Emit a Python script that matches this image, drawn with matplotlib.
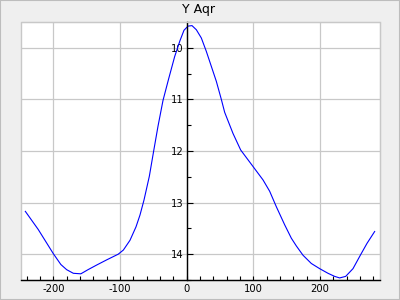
import matplotlib
matplotlib.use("Agg")
import matplotlib.pyplot as plt
from matplotlib.patches import Rectangle
from matplotlib.ticker import MultipleLocator

plt.rcParams['axes.unicode_minus'] = False
plt.rcParams['font.family'] = ['DejaVu Sans']

title = "Y Aqr"
phase = [-242, -222.7, -200, -188.7, -180, -170, -158.7, -148, -135, -120, -102.7, -95, -85, -76,
         -70, -64, -56, -49.5, -43, -35.5, -27, -18, -10, -4, 2, 8, 14.5, 22, 29.5, 37, 44.5,
         52, 57, 69.5, 81, 99.5, 114.5, 124.5, 134.5, 147, 157, 164.5, 174.5, 187, 199.5, 212,
         222, 229.5, 238.5, 249.5, 260.5, 270.5, 282]
mag = [13.17, 13.52, 13.99, 14.2, 14.3, 14.37, 14.38, 14.3, 14.21, 14.11, 14.0, 13.92, 13.73, 13.47,
       13.24, 12.95, 12.49, 12.0, 11.52, 11.02, 10.6, 10.17, 9.86, 9.66, 9.58, 9.57, 9.65, 9.81, 10.07,
       10.36, 10.65, 11.0, 11.25, 11.66, 11.98, 12.3, 12.56, 12.78, 13.08, 13.43, 13.69, 13.84, 14.02,
       14.18, 14.28, 14.37, 14.43, 14.46, 14.43, 14.28, 14.02, 13.79, 13.56]

fig = plt.figure(figsize=(4, 3), dpi=100, facecolor='#efefef')
ax = fig.add_axes([21/400, 1-280/300, (380-21)/400, (280-22)/300])
ax.set_facecolor('white')

ax.plot(phase, mag, color='#0000ff', lw=0.8)

ax.set_xlim(-248.5, 290)
ax.set_ylim(14.5, 9.5)

grid_c = '#c8c8c8'
ax.xaxis.set_major_locator(MultipleLocator(100))
ax.xaxis.set_minor_locator(MultipleLocator(20))
ax.yaxis.set_major_locator(MultipleLocator(1))
ax.yaxis.set_minor_locator(MultipleLocator(0.5))
ax.grid(True, which='major', color=grid_c, lw=0.9)
ax.set_axisbelow(True)

for s in ['top', 'right']:
    ax.spines[s].set_color(grid_c)
ax.spines['left'].set_position(('data', 0))
ax.spines['left'].set_color('black')
ax.spines['left'].set_linewidth(1.0)
ax.spines['bottom'].set_color('black')
ax.spines['bottom'].set_linewidth(1.0)
ax.add_patch(Rectangle((0, 0), 1, 1, transform=ax.transAxes, fill=False,
                       edgecolor=grid_c, lw=1.0, clip_on=False, zorder=0.5))

ax.tick_params(axis='x', which='both', direction='in', length=3, width=0.8,
               labelsize=7.2, pad=3, colors='black')
ax.tick_params(axis='y', which='major', direction='in', length=4.2, width=0.8,
               labelsize=7.2, pad=2)
ax.tick_params(axis='y', which='minor', direction='in', length=3, width=0.8)

fig.text(199/400, 1-10/300, title, ha='center', va='center', fontsize=9)
fig.patches.append(Rectangle((0, 0), 1, 1, transform=fig.transFigure, fill=False,
                             edgecolor='#bdbdbd', lw=1.5))

fig.savefig('out.png', dpi=100, facecolor=fig.get_facecolor())
